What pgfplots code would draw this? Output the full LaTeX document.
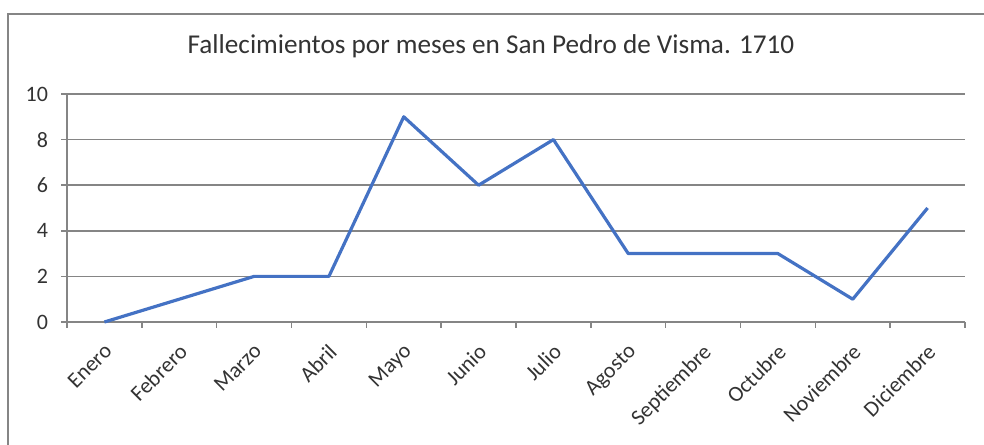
\documentclass[border=0pt]{standalone}
\usepackage{pgfplots}
\pgfplotsset{compat=1.18}
\usepackage{fontspec}
\setmainfont{Carlito}
\definecolor{linecol}{HTML}{4472C4}
\definecolor{gridcol}{HTML}{858585}
\begin{document}
\begin{tikzpicture}
\useasboundingbox (0pt,0pt) rectangle (492pt,222pt);
\draw[gridcol, line width=1pt] (4pt,-10pt) rectangle (500pt,215pt);
\node[font=\fontsize{13.6}{15}\selectfont, text=black!80] at (245.5pt,199pt) {Fallecimientos por meses en San Pedro de Visma. 1710};
\begin{axis}[
  at={(33.5pt,61pt)}, anchor=south west,
  width=449pt, height=114pt, scale only axis,
  xmin=-0.5, xmax=11.5, ymin=0, ymax=10,
  axis x line=bottom, axis y line=left,
  axis line style={gridcol, line width=0.8pt, -},
  xtick={0,...,11},
  xticklabels={Enero,Febrero,Marzo,Abril,Mayo,Junio,Julio,Agosto,Septiembre,Octubre,Noviembre,Diciembre},
  major x tick style={draw=none},
  minor xtick={-0.5,0.5,...,11.5},
  minor x tick style={gridcol, line width=0.8pt},
  ytick={0,2,...,10},
  ytick style={gridcol, line width=0.8pt},
  tick align=outside,
  major tick length=3pt, minor tick length=3pt,
  ymajorgrids,
  grid style={gridcol, line width=0.8pt},
  xticklabel style={rotate=45, anchor=north east, font=\fontsize{11}{12}\selectfont, text=black!80, inner sep=1pt, xshift=-4.5pt, yshift=-3.5pt},
  yticklabel style={font=\fontsize{11}{12}\selectfont, text=black!80, xshift=-3pt},
  /pgf/number format/assume math mode=true,
  clip=false,
]
\addplot[linecol, line width=1.6pt, line join=round] coordinates {
(0,0) (1,1) (2,2) (3,2) (4,9) (5,6) (6,8) (7,3) (8,3) (9,3) (10,1) (11,5)
};
\end{axis}
\end{tikzpicture}
\end{document}
